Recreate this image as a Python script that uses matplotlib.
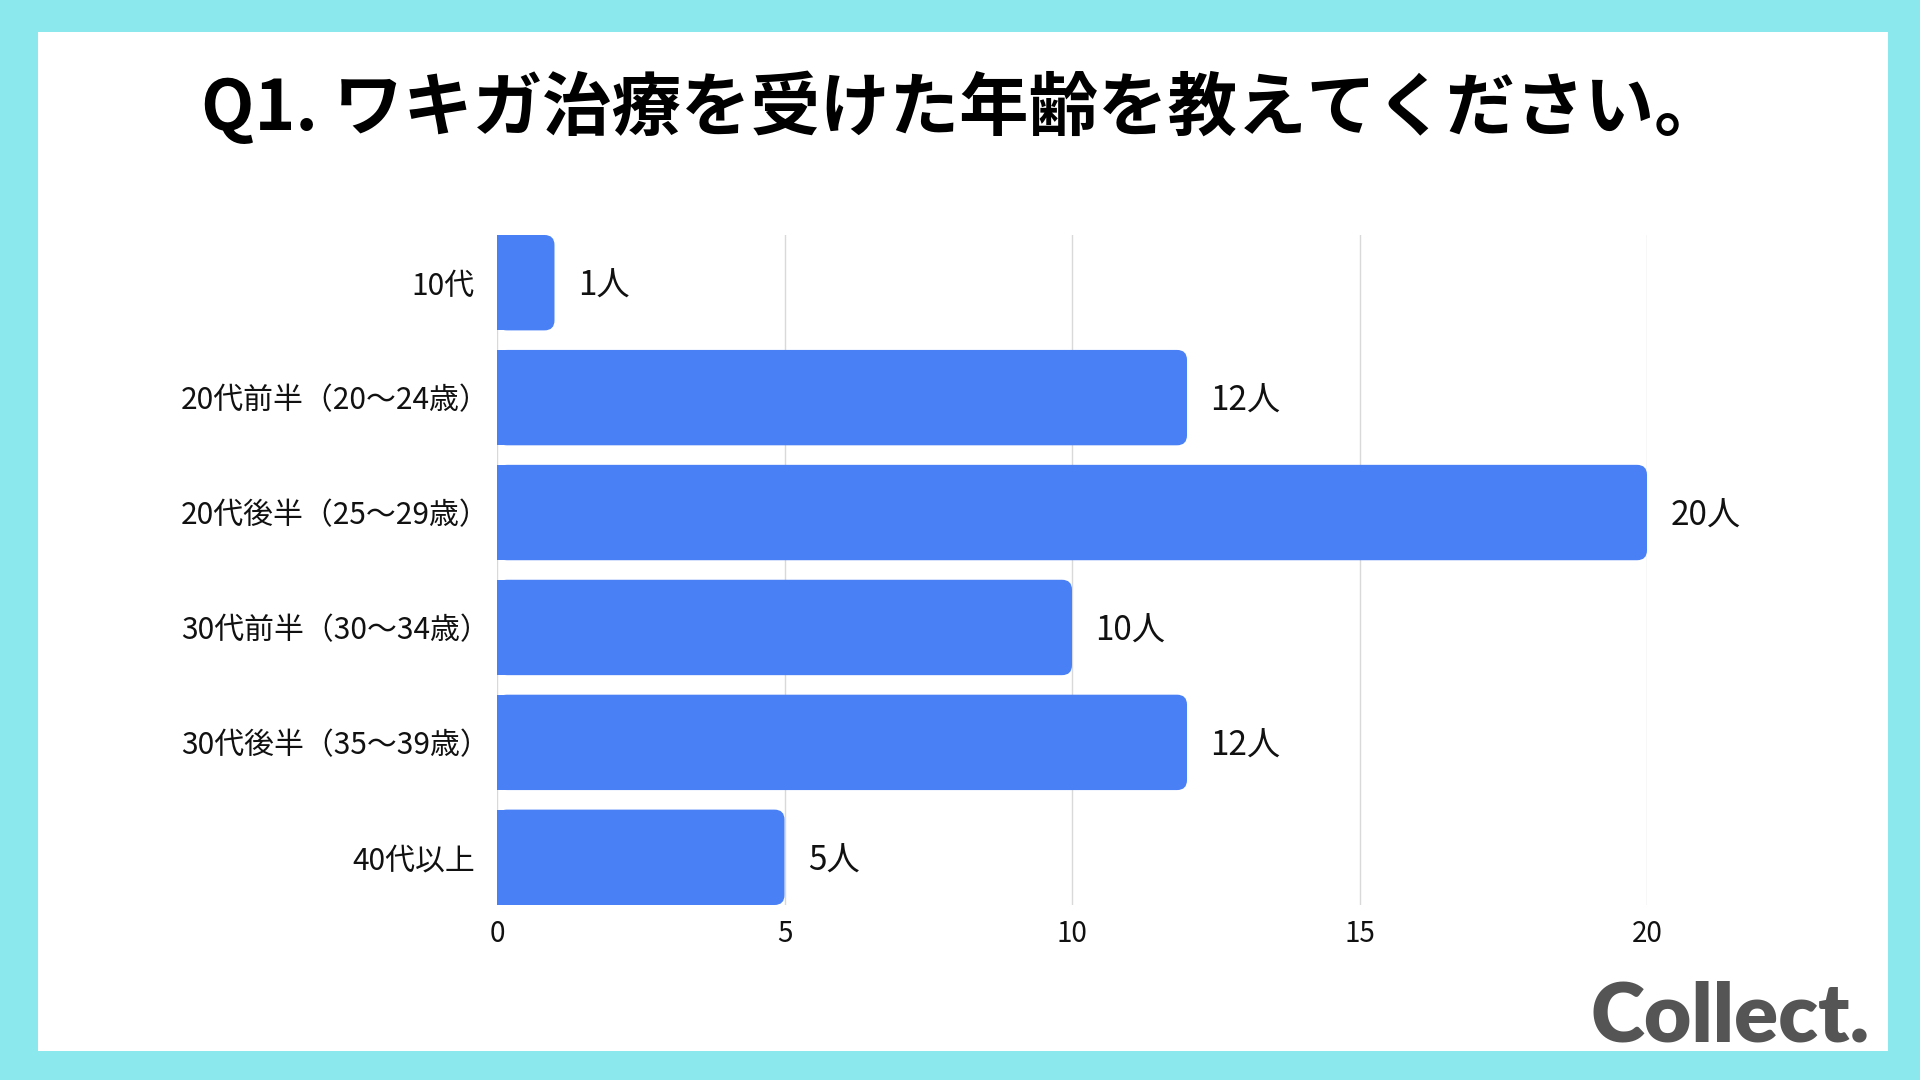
import matplotlib.pyplot as plt
import matplotlib.transforms as mtransforms
from matplotlib.patches import FancyBboxPatch, Rectangle

# данные графика
title = 'Q1. ワキガ治療を受けた年齢を教えてください。'
categories = ['10代', '20代前半（20〜24歳）', '20代後半（25〜29歳）',
              '30代前半（30〜34歳）', '30代後半（35〜39歳）', '40代以上']
counts = [1, 12, 20, 10, 12, 5]
value_labels = [f'{v}人' for v in counts]
x_ticks = [0, 5, 10, 15, 20]

plt.rcParams['font.family'] = ['Noto Sans CJK JP', 'DejaVu Sans']

bar_color = '#4a80f5'
bar_h = 0.83
r_x = 0.174        # радиус скругления по оси x
aspect = 0.5       # отношение масштабов осей
cat_fs = 21.5

fig = plt.figure(figsize=(19.2, 10.8), dpi=100, facecolor='#8be9ed')
# белая подложка
fig.patches.append(Rectangle((38 / 1920, 1 - 1051 / 1080), 1850 / 1920, 1019 / 1080,
                             transform=fig.transFigure, facecolor='white', edgecolor='none', zorder=-10))

ax = fig.add_axes([497 / 1920, 1 - 905 / 1080, 1150 / 1920, 670 / 1080])
ax.set_facecolor('none')

# отрисовка столбцов со скруглёнными концами
for i, v in enumerate(counts):
    ax.barh(i, v - r_x, height=bar_h, color=bar_color, lw=0, zorder=3)
    ax.add_patch(FancyBboxPatch((0, i - bar_h / 2), v, bar_h,
                                boxstyle=f'round,pad=0,rounding_size={r_x}',
                                mutation_aspect=aspect, facecolor=bar_color,
                                edgecolor='none', zorder=3))
    ax.annotate(value_labels[i], (v, i), xytext=(17, -2.5), textcoords='offset points',
                ha='left', va='center', fontsize=24, color='#111111', annotation_clip=False)

# оси и сетка
ax.set_xlim(0, 20)
ax.set_ylim(len(counts) - 1 + bar_h / 2, -bar_h / 2)
ax.set_xticks(x_ticks, [str(t) for t in x_ticks])
ax.set_yticks(range(len(categories)), categories)
ax.tick_params(axis='both', length=0, labelsize=20, colors='#111111')
ax.tick_params(axis='y', pad=16, labelsize=cat_fs)
ax.tick_params(axis='x', pad=10)
# полуширинный сдвиг для меток с закрывающей скобкой
for lbl in ax.get_yticklabels():
    if lbl.get_text().endswith('）'):
        lbl.set_transform(lbl.get_transform() +
                          mtransforms.ScaledTranslation(0.5 * cat_fs / 72, 0, fig.dpi_scale_trans))
ax.xaxis.grid(True, color='#d9d9d9', lw=1, zorder=0)
ax.set_axisbelow(True)
for s in ax.spines.values():
    s.set_visible(False)

# заголовок и логотип
fig.text(962 / 1920, 1 - 108 / 1080, title, ha='center', va='center',
         fontsize=50, fontweight='bold', color='#000000')
fig.text(1870 / 1920, 1 - 1041 / 1080, 'Collect.', ha='right', va='baseline',
         fontsize=59, fontweight='heavy', family=['Lato', 'DejaVu Sans'], color='#555555')

fig.savefig('out.png', dpi=100, facecolor=fig.get_facecolor())
